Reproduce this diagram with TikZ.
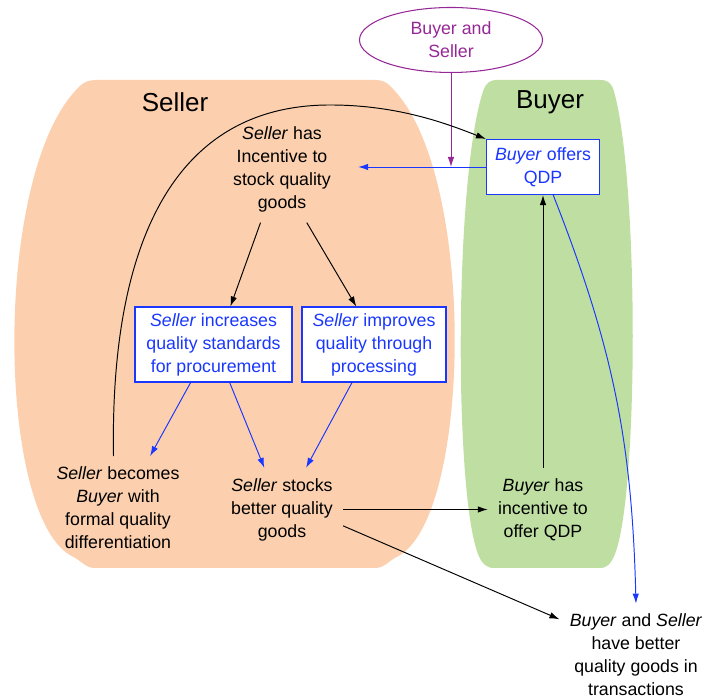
\documentclass[tikz,border=0pt]{standalone}
\usepackage{fontspec}
\setmainfont{Liberation Sans}
\usepackage{xcolor}
\usetikzlibrary{shapes.geometric,arrows.meta}

\definecolor{sellerbg}{RGB}{252,208,174}
\definecolor{buyerbg}{RGB}{190,223,161}
\definecolor{qdpblue}{RGB}{25,55,255}
\definecolor{bothpurple}{RGB}{150,40,150}

\begin{document}
\begin{tikzpicture}[
        font=\fontsize{10.1}{13.1}\selectfont,
        txt/.style={align=center, inner sep=0.2cm},
        action/.style={draw=qdpblue, fill=white, text=qdpblue, align=center, line width=0.6pt, inner sep=1pt},
        region/.style={font=\fontsize{14.8}{18}\selectfont},
        link/.style={-{Latex[length=2mm,width=1.3mm]}, line width=0.55pt},
        bluelink/.style={link, draw=qdpblue}]
        \useasboundingbox (0,0) rectangle (14.16,13.98);

        % Seller region
        \fill[sellerbg] (1.95,12.38) -- (7.5,12.38) .. controls (7.7,12.38) and (7.78,12.3) .. (7.95,12.1)
            .. controls (9.55,10.2) and (9.4,3.58) .. (7.95,2.85) .. controls (7.75,2.75) and (7.7,2.62) .. (7.5,2.62)
            -- (1.9,2.62) .. controls (1.7,2.62) and (1.65,2.75) .. (1.45,2.85)
            .. controls (-0.04,3.58) and (-0.16,10.2) .. (1.45,12.1) .. controls (1.62,12.3) and (1.7,12.38) .. cycle;
        \node[region] (sellertitle) at (3.5,11.94) {Seller};

        % Buyer region
        \fill[buyerbg] (9.95,12.38) -- (12.0,12.38) .. controls (12.15,12.38) and (12.23,12.33) .. (12.28,12.15)
            .. controls (12.78,10.38) and (12.78,3.98) .. (12.28,2.85) .. controls (12.22,2.72) and (12.15,2.62) .. (12.0,2.62)
            -- (9.88,2.62) .. controls (9.73,2.62) and (9.65,2.7) .. (9.58,2.85)
            .. controls (9.08,3.98) and (9.08,10.38) .. (9.66,12.15) .. controls (9.72,12.33) and (9.8,12.38) .. cycle;
        \node[region] (buyertitle) at (11.0,11.94) {Buyer};

        % Both parties
        \node[ellipse, draw=bothpurple, text=bothpurple, line width=0.6pt, align=center,
            minimum width=3.66cm, minimum height=1.3cm, inner sep=0pt] (both) at (9.02,13.18) {Buyer and\\Seller};

        % Statements
        \node[txt] (incent) at (5.64,10.59) {\textit{Seller} has\\Incentive to\\stock quality\\goods};
        \node[action, minimum width=2.26cm, minimum height=1.1cm] (offers) at (10.86,10.64) {\textit{Buyer} offers\\QDP};
        \node[action, minimum width=3.14cm, minimum height=1.5cm] (procure) at (4.27,7.09) {\textit{Seller} increases\\quality standards\\for procurement};
        \node[action, minimum width=2.88cm, minimum height=1.5cm] (process) at (7.48,7.09) {\textit{Seller} improves\\quality through\\processing};
        \node[txt] (becomes) at (2.36,3.83) {\textit{Seller} becomes\\\textit{Buyer} with\\formal quality\\differentiation};
        \node[txt] (stocks) at (5.64,3.79) {\textit{Seller} stocks\\better quality\\goods};
        \node[txt] (incbuyer) at (10.86,3.79) {\textit{Buyer} has\\incentive to\\offer QDP};
        \node[txt] (better) at (12.72,0.88) {\textit{Buyer} and \textit{Seller}\\have better\\quality goods in\\transactions};

        % Connectors
        \coordinate (meet) at (both.south |- offers.west);
        \draw[bluelink, shorten >=0.34cm] (offers.west) -- (incent.east |- offers.west);
        \draw[link, draw=bothpurple] (both.south) -- (meet);
        \draw[link] (incent.-112) -- (procure.66);
        \draw[link] (incent.-65) -- (process.115);
        \draw[bluelink] (procure.-121) -- (becomes.58);
        \draw[bluelink] (procure.-67) -- (stocks.113);
        \draw[bluelink] (process.-120) -- (stocks.60);
        \draw[link] (stocks.east) -- (incbuyer.west);
        \draw[link] (stocks.-15) -- (better.155);
        \draw[link] (incbuyer.north) -- (offers.south);
        \draw[bluelink] (offers.-70) to[bend left=10] (better.north);
        \draw[link] (becomes.95) .. controls (2.2,8.98) and (3.4,11.88) .. (6.6,11.88)
            .. controls (8.0,11.88) and (9.0,11.48) .. (offers.north west);
\end{tikzpicture}
\end{document}
